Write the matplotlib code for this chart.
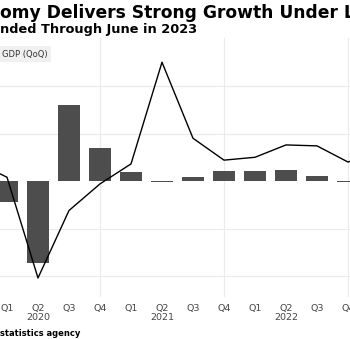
import numpy as np
import matplotlib
matplotlib.use('Agg')
import matplotlib.pyplot as plt

# quarters from Q4 2019 to Q1 2023 (first and last fall outside the visible window)
quarters = ['Q4', 'Q1', 'Q2', 'Q3', 'Q4', 'Q1', 'Q2', 'Q3', 'Q4', 'Q1', 'Q2', 'Q3', 'Q4', 'Q1']
years = ['2019', '2020', '2020', '2020', '2020', '2021', '2021', '2021', '2021',
         '2022', '2022', '2022', '2022', '2023']
gdp_qoq = [0.3, -2.2, -8.6, 8.0, 3.5, 0.95, -0.15, 0.4, 1.05, 1.05, 1.15, 0.5, -0.1, 1.9]
gdp_yoy = [2.0, 0.4, -10.2, -3.1, -0.3, 1.8, 12.5, 4.5, 2.2, 2.5, 3.8, 3.7, 2.0, 3.2]

x = np.arange(len(quarters)) - 1  # Q1 2020 -> 0

fig = plt.figure(figsize=(3.5, 3.39), dpi=100)
ax = fig.add_axes([0, 1 - 297 / 339, 1, (297 - 38) / 339])

ax.bar(x, gdp_qoq, width=0.74, color='#4d4d4d', zorder=2)
ax.plot(x, gdp_yoy, color='black', lw=1.0, zorder=3)

# x tick labels
labels = []
for q, yr in zip(quarters, years):
    labels.append(q + '\n' + yr if q == 'Q2' else q)
ax.set_xticks(x)
ax.set_xticklabels(labels, fontsize=6.8, color='#444444')
for t in ax.get_xticklabels():
    t.set_linespacing(1.05)
    t.set_verticalalignment('top')
ax.tick_params(axis='x', length=0, pad=5)

ax.set_xlim(-7 / 31, 343 / 31)
ax.set_ylim(-12.2, 15.05)

# grid
ax.set_yticks([-10, -5, 5, 10])
ax.yaxis.grid(True, color='#ebebeb', lw=0.8, zorder=0)
for v in [3, 7, 11]:
    ax.axvline(v, color='#ebebeb', lw=0.8, zorder=0)
ax.tick_params(axis='y', left=False, labelleft=False)

for s in ax.spines.values():
    s.set_visible(False)

# texts (the reference is cropped at both sides)
fig.text(0, 1 - 18 / 339, 'omy Delivers Strong Growth Under Lula', fontsize=12.3,
         fontweight='bold', va='baseline', ha='left')
fig.text(0, 1 - 33 / 339, 'nded Through June in 2023', fontsize=9.3,
         fontweight='bold', va='baseline', ha='left')
fig.text(2 / 350, 1 - 54 / 339, 'GDP (QoQ)', fontsize=6, color='#333333',
         va='center', ha='left',
         bbox=dict(boxstyle='square,pad=0.45', facecolor='#f0f0f0', edgecolor='none'))
fig.text(0, 1 - 333 / 339, 'statistics agency', fontsize=6, fontweight='bold',
         va='center', ha='left')

fig.savefig('out.png', dpi=100)
